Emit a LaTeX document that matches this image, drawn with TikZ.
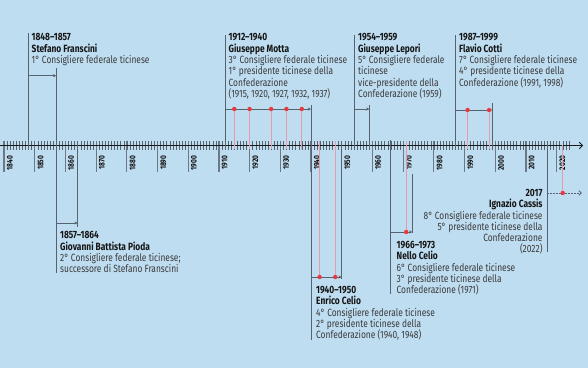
\documentclass[tikz,border=0pt]{standalone}
\usepackage{fontspec}
\setmainfont{Fira Sans}[FakeStretch=0.8]
\usetikzlibrary{arrows.meta}
\definecolor{bg}{HTML}{BFDDF1}
\definecolor{ln}{HTML}{56636E}
\definecolor{tk}{HTML}{6C7883}
\definecolor{txt}{HTML}{3A3A3A}
\definecolor{hd}{HTML}{151515}
\definecolor{dotred}{HTML}{E8393F}
\definecolor{pinkln}{HTML}{E59CA8}
\tikzset{
  declare function={yr(\t)=4+(\t-1840)*3.07;},
  evline/.style={draw=ln, line width=0.9pt},
  span/.style={draw=ln, line width=0.9pt, -{Stealth[length=3.2pt,width=3.2pt]}},
  pres/.style={draw=pinkln, line width=0.9pt},
  minor/.style={draw=ln, line width=0.45pt},
  major/.style={draw=tk, line width=1.2pt},
  axisline/.style={draw=black!90, line width=0.9pt, -{Straight Barb[length=3pt,width=6.5pt,line width=0.9pt]}},
  yearlab/.style={rotate=90, anchor=east, inner sep=0pt, text=hd, font=\fontsize{8.2}{9}\selectfont\bfseries},
  info/.style={anchor=north west, inner sep=0pt, align=left, text=txt, font=\fontsize{10.5}{11.3}\selectfont},
  inforight/.style={info, anchor=north east, align=right},
  pdot/.style={fill=dotred, draw=none},
}
\newcommand\hdr[1]{{\color{hd}\bfseries #1}}
\begin{document}
\begin{tikzpicture}[x=1pt,y=-1pt]
\fill[bg] (0,0) rectangle (588,368);
\useasboundingbox (0,0) rectangle (588,368);

% ticks
\foreach \t in {1840,...,2024} \draw[minor] ({yr(\t)},141) -- ({yr(\t)},149.5);
\foreach \t in {1840,1850,...,2020} {
  \draw[major] ({yr(\t)},140.5) -- ({yr(\t)},171.5);
  \node[yearlab] (y\t) at ({yr(\t)+5.8},155.5) {\t};
}
\coordinate (axL) at (0,145.5);
\coordinate (axR) at (583,145.5);
\draw[axisline] (axL) -- (axR);

% Franscini 1848-1857
\draw[evline] ({yr(1848)},33) -- ({yr(1848)},149);
\draw[evline] ({yr(1857)},68) -- ({yr(1857)},273);
\draw[span] ({yr(1848)},75.7) -- ({yr(1857)},75.7);
\node[info] (franscini) at (31.5,33.5) {\hdr{1848–1857}\\\hdr{Stefano Franscini}\\1° Consigliere federale ticinese};

% Pioda 1857-1864
\draw[evline] ({yr(1864)},143) -- ({yr(1864)},227);
\draw[span] ({yr(1857)},223) -- ({yr(1864)},223);
\node[info] (pioda) at (60,231.5) {\hdr{1857–1864}\\\hdr{Giovanni Battista Pioda}\\2° Consigliere federale ticinese;\\successore di Stefano Franscini};

% Motta 1912-1940
\draw[evline] ({yr(1912)},35) -- ({yr(1912)},149);
\draw[evline] ({yr(1940)},105) -- ({yr(1940)},340);
\foreach \p in {1915,1920,1927,1932,1937} \draw[pres] ({yr(\p)},109) -- ({yr(\p)},149);
\draw[span] ({yr(1912)},109) -- ({yr(1940)},109);
\foreach \p in {1915,1920,1927,1932,1937} \fill[pdot] ({yr(\p)},109) circle (2.2);
\node[info] (motta) at (228.5,33.5) {\hdr{1912–1940}\\\hdr{Giuseppe Motta}\\3° Consigliere federale ticinese\\1° presidente ticinese della\\Confederazione\\(1915, 1920, 1927, 1932, 1937)};

% Lepori 1954-1959
\draw[evline] ({yr(1954)},35) -- ({yr(1954)},149);
\draw[evline] ({yr(1959)},105) -- ({yr(1959)},149);
\draw[span] ({yr(1954)},109) -- ({yr(1959)},109);
\node[info] (lepori) at (358,33.5) {\hdr{1954–1959}\\\hdr{Giuseppe Lepori}\\5° Consigliere federale\\ticinese\\vice-presidente della\\Confederazione (1959)};

% Enrico Celio 1940-1950
\draw[evline] ({yr(1950)},141) -- ({yr(1950)},279);
\foreach \p in {1942.8,1947.9} \draw[pres] ({yr(\p)},141) -- ({yr(\p)},277);
\draw[span] ({yr(1940)},277) -- ({yr(1950)},277);
\foreach \p in {1942.8,1947.9} \fill[pdot] ({yr(\p)},277) circle (2.2);
\node[info] (ecelio) at (316,286) {\hdr{1940–1950}\\\hdr{Enrico Celio}\\4° Consigliere federale ticinese\\2° presidente ticinese della\\Confederazione (1940, 1948)};

% Nello Celio 1966-1973
\draw[evline] ({yr(1966)},140) -- ({yr(1966)},294);
\draw[evline] ({yr(1973)},174) -- ({yr(1973)},233);
\draw[pres] ({yr(1971)},141) -- ({yr(1971)},232);
\draw[span] ({yr(1966)},232) -- ({yr(1973)},232);
\fill[pdot] ({yr(1971)},232) circle (2.2);
\node[info] (ncelio) at (396.5,241) {\hdr{1966–1973}\\\hdr{Nello Celio}\\6° Consigliere federale ticinese\\3° presidente ticinese della\\Confederazione (1971)};

% Cotti 1987-1999
\draw[evline] ({yr(1987)},35) -- ({yr(1987)},149);
\draw[evline] ({yr(1999)},103) -- ({yr(1999)},149);
\foreach \p in {1991,1998} \draw[pres] ({yr(\p)},110) -- ({yr(\p)},149);
\draw[span] ({yr(1987)},110) -- ({yr(1999)},110);
\foreach \p in {1991,1998} \fill[pdot] ({yr(\p)},110) circle (2.2);
\node[info] (cotti) at (459,33.5) {\hdr{1987–1999}\\\hdr{Flavio Cotti}\\7° Consigliere federale ticinese\\4° presidente ticinese della\\Confederazione (1991, 1998)};

% Cassis 2017-
\draw[evline] ({yr(2017)},145) -- ({yr(2017)},252);
\draw[pres] ({yr(2022)},145) -- ({yr(2022)},193);
\coordinate (cassisEnd) at (582,193);
\draw[draw=ln, line width=0.8pt, dash pattern=on 1.5pt off 1.5pt, -{Straight Barb[length=2.5pt,width=4.5pt,line width=0.8pt]}] ({yr(2017)},193) -- (cassisEnd);
\fill[pdot] ({yr(2022)},193) circle (2.2);
\node[inforight] (cassis) at (542.7,189) {\hdr{2017}\\\hdr{Ignazio Cassis}\\8° Consigliere federale ticinese\\5° presidente ticinese della\\Confederazione\\(2022)};
\end{tikzpicture}
\end{document}
